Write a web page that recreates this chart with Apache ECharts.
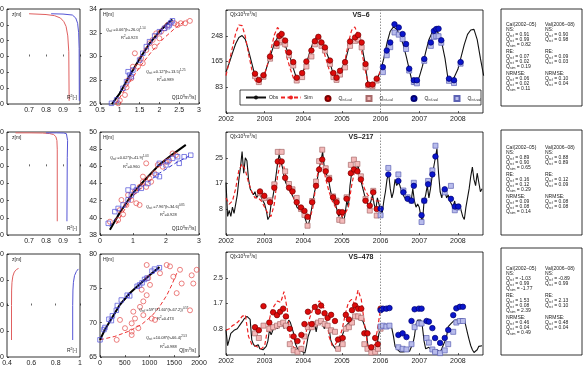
<!DOCTYPE html>
<html>
<head>
<meta charset="utf-8">
<script src="https://cdn.jsdelivr.net/npm/echarts@6/dist/echarts.min.js"></script>
<style>
html, body { margin: 0; padding: 0; background: #fff; }
#main { width: 586px; height: 368px; }
</style>
</head>
<body>
<div id="main"></div>
<script>
const FONT = '"Liberation Sans", Arial, sans-serif';
const years = [2002, 2003, 2004, 2005, 2006, 2007, 2008];

// ---------- VS-6 ----------
// monthly, from Jan 2002
const obs6 = [
  131, 160, 192, 222, 242, 248, 236, 200, 160, 120, 98, 105,
  125, 158, 190, 222, 242, 240, 228, 200, 175, 140, 108, 112,
  135, 160, 195, 225, 242, 238, 220, 200, 172, 135, 110, 118,
  145, 165, 205, 232, 245, 248, 225, 170, 100, 88, 95, 112,
  135, 175, 225, 262, 276, 268, 248, 220, 180, 135, 92, 95,
  115, 150, 195, 235, 258, 268, 255, 225, 175, 105, 96, 118,
  140, 180, 220, 252, 266, 268, 235, 175, 120
];
const sim6 = [
  120, 165, 210, 255, 282, 280, 245, 190, 140, 105, 92, 105,
  125, 160, 205, 250, 274, 262, 222, 175, 140, 110, 108, 120,
  130, 155, 188, 220, 240, 236, 210, 175, 140, 115, 110, 120,
  135, 170, 225, 265, 276, 250, 205, 150, 100, 85, 90, 110,
  135
];
const calRcf6 = [[2002.75,126],[2002.85,106],[2002.97,121],[2003.14,181],[2003.31,223],[2003.38,247],[2003.44,253],[2003.53,232],[2003.63,194],[2003.74,163],[2003.83,113],[2003.97,128],[2004.08,165],[2004.21,200],[2004.30,230],[2004.39,244],[2004.47,226],[2004.56,210],[2004.69,168],[2004.78,128],[2004.86,113],[2004.95,135],[2005.08,163],[2005.21,229],[2005.34,242],[2005.42,250],[2005.51,226],[2005.61,157],[2005.68,91],[2005.79,91],[2005.90,110]];
const calRct6 = [[2002.75,118],[2002.85,99],[2002.97,116],[2003.14,174],[2003.31,215],[2003.38,226],[2003.44,233],[2003.53,220],[2003.63,185],[2003.74,152],[2003.83,104],[2003.97,115],[2004.08,149],[2004.21,181],[2004.30,220],[2004.39,233],[2004.47,215],[2004.56,200],[2004.69,157],[2004.78,115],[2004.86,106],[2004.95,123],[2005.08,146],[2005.21,215],[2005.34,231],[2005.42,236],[2005.51,210],[2005.61,146],[2005.68,88],[2005.79,86],[2005.90,104]];
const valRcf6 = [[2006.06,147],[2006.16,200],[2006.25,226],[2006.36,284],[2006.47,274],[2006.57,253],[2006.66,221],[2006.74,142],[2006.86,105],[2006.94,105],[2007.13,173],[2007.30,226],[2007.38,263],[2007.44,269],[2007.50,270],[2007.57,233],[2007.77,110],[2007.90,105],[2008.07,163]];
const valRct6 = [[2006.06,131],[2006.16,185],[2006.25,211],[2006.36,258],[2006.47,251],[2006.57,237],[2006.66,205],[2006.74,136],[2006.86,99],[2006.94,95],[2007.13,167],[2007.30,215],[2007.38,244],[2007.44,246],[2007.50,246],[2007.57,225],[2007.77,103],[2007.90,96],[2008.07,158]];
const profRed6 = [[0.70,27],[0.80,26.5],[0.85,25.8],[0.885,24.3],[0.905,22],[0.918,19],[0.928,13],[0.934,3],[0.936,-28]];
const profBlue6 = [[0.83,27],[0.90,26.8],[0.955,26.2],[0.975,24.3],[0.986,21],[0.992,15],[0.995,5],[0.996,-28]];
const rcCirc6 = [[0.96,26.06],[1.0,26.3],[1.13,26.76],[1.17,27.4],[1.21,28.0],[1.29,28.16],[1.33,29.14],[1.46,29.14],[1.38,30.27],[1.58,29.43],[1.54,29.85],[1.67,30.55],[1.75,31.11],[1.83,31.39],[1.88,30.83],[1.92,31.95],[2.0,31.53],[2.04,32.09],[2.13,32.37],[2.21,32.65],[2.38,32.8],[2.46,32.65],[2.54,32.8],[2.65,32.8],[2.77,33.0]];
const rcSq6 = [[0.79,26.06],[0.92,26.34],[1.08,27.32],[1.17,27.88],[1.21,28.72],[1.25,28.44],[1.29,28.3],[1.33,28.86],[1.5,29.7],[1.58,30.27],[1.67,30.83],[1.75,31.25],[1.88,31.73],[2.0,32.09],[2.13,32.37],[2.21,32.51],[2.25,32.65],[2.29,32.84],[2.33,33.01]];
const rcBlack6 = [[0.8,26.0],[1.0,26.9],[1.25,28.4],[1.5,29.8],[1.75,31.1],[2.0,32.1],[2.2,32.8],[2.33,33.1]];
const rcRed6 = [[0.9,26.0],[1.2,27.6],[1.5,29.1],[1.8,30.4],[2.1,31.5],[2.4,32.4],[2.7,33.1]];
const rcBlue6 = [[0.8,26.0],[1.1,27.5],[1.4,29.2],[1.7,30.8],[2.0,32.0],[2.3,33.0]];
const statCal6 = [[0.91, 0.99, 0.82], [0.07, 0.02, 0.19], [0.06, 0.02, 0.11]];
const statVal6 = [[0.90, 0.98], [0.09, 0.03], [0.10, 0.04]];

// ---------- VS-217 ----------
// half-monthly, from Jan 2002
const obs217 = [
  17, 6, 8, 6, 9, 7, 10, 13, 18, 22, 27, 20, 25, 24, 18, 15, 14, 13, 14, 12, 13, 14, 12, 11,
  10, 8, 5, 6, 10, 12, 15, 19, 23, 26, 24, 22, 19, 17, 16, 15, 14, 13, 12, 11, 9, 9, 8, 8,
  7, 7, 4, 3, 5, 8, 11, 14, 16, 19, 22, 24, 27, 22, 20, 19, 17, 14, 12, 11, 10, 8, 6, 7,
  6, 4, 7, 11, 9, 16, 20, 21, 22, 21, 23, 19, 17, 15, 13, 11, 10, 9, 11, 13, 10, 8, 12, 10,
  8, 7, 11, 14, 18, 20, 15, 12, 14, 18, 16, 17, 16, 14, 13, 12, 12, 11, 12, 11, 15, 11, 9, 10,
  9, 6, 4, 11, 13, 16, 12, 15, 19, 22, 25, 28, 20, 14, 12, 15, 14, 12, 13, 11, 10, 9, 11, 8,
  9, 10, 8, 6, 5, 9, 12, 15, 19, 22, 18, 16, 20, 17, 14, 15
];
// monthly, from Jan 2002
const sim217 = [
  12, 10, 11, 15, 21, 23, 21, 17, 14, 12, 12, 11,
  9, 7, 6, 10, 19, 24, 22, 17, 14, 12, 10, 9,
  7, 6, 5, 9, 17, 23, 23, 18, 14, 11, 9, 8,
  6, 7, 9, 16, 21, 21, 18, 15, 13, 12, 11, 11,
  11
];
const calRcf217 = [[2002.88,14.1],[2002.99,12.7],[2003.14,10.6],[2003.25,15.3],[2003.34,23.8],[2003.44,23.8],[2003.53,18.5],[2003.63,15.3],[2003.72,14.1],[2003.83,10.6],[2003.94,8.9],[2004.03,7.8],[2004.11,5.9],[2004.23,10.6],[2004.33,15.9],[2004.41,21.2],[2004.49,24.4],[2004.58,20.6],[2004.67,18.0],[2004.77,12.2],[2004.86,10.6],[2004.93,7.4],[2005.01,7.4],[2005.12,11.7],[2005.23,20.0],[2005.31,21.2],[2005.40,20.6],[2005.49,18.0],[2005.61,11.1],[2005.72,9.5],[2005.81,13.8],[2005.90,8.4]];
const calRct217 = [[2002.88,13.5],[2002.99,11.9],[2003.14,11.2],[2003.25,16.4],[2003.34,26.9],[2003.44,26.9],[2003.53,20.6],[2003.63,16.5],[2003.72,14.8],[2003.83,12.0],[2003.94,8.4],[2004.03,6.5],[2004.11,3.0],[2004.23,11.0],[2004.33,17.3],[2004.41,23.9],[2004.49,27.6],[2004.58,21.6],[2004.67,18.5],[2004.77,12.5],[2004.86,11.1],[2004.93,4.9],[2005.01,4.6],[2005.12,12.2],[2005.23,22.7],[2005.31,24.4],[2005.40,23.0],[2005.49,19.0],[2005.61,11.7],[2005.72,7.9],[2005.81,14.3],[2005.90,6.3]];
const valRcf217 = [[2006.00,8.5],[2006.20,19.6],[2006.46,17.5],[2006.59,13.8],[2006.70,11.7],[2006.80,11.1],[2006.86,15.9],[2007.06,6.4],[2007.13,11.1],[2007.23,16.4],[2007.34,19.6],[2007.42,25.4],[2007.66,14.8],[2007.82,11.7],[2007.92,9.2],[2008.01,9.2]];
const valRct217 = [[2006.00,6.4],[2006.20,21.7],[2006.46,19.6],[2006.59,14.4],[2006.70,12.2],[2006.80,11.1],[2006.86,16.9],[2007.06,4.2],[2007.13,11.1],[2007.23,17.5],[2007.34,20.9],[2007.42,28.9],[2007.66,13.8],[2007.82,15.9],[2007.92,8.0],[2008.01,8.9]];
const profRed217 = [[0.62,39],[0.70,39],[0.78,38.8],[0.82,38.2],[0.845,37],[0.858,34.5],[0.864,30],[0.866,20],[0.866,-64]];
const profBlue217 = [[0.80,39],[0.86,39],[0.905,38.8],[0.92,38],[0.926,36],[0.927,30],[0.925,10],[0.923,-64]];
const rcCirc217 = [[0.3,39.55],[0.55,39.75],[0.6,40.9],[0.65,42.08],[0.7,40.4],[0.8,41.5],[0.85,42.66],[0.95,42.08],[1.05,43.05],[1.1,41.7],[1.2,41.5],[1.2,43.6],[1.3,44.2],[1.3,44.8],[1.4,43.6],[1.4,46.35],[1.5,44.6],[1.55,44.2],[1.65,45.19],[1.75,46.16],[1.9,45.96],[2.0,46.54],[2.1,46.7],[2.2,47.5],[2.3,47.3]];
const rcSq217 = [[0.25,39.36],[0.45,40.72],[0.55,41.1],[0.7,41.5],[0.85,43.24],[0.85,42.1],[0.95,42.66],[1.0,43.6],[1.1,43.24],[1.25,43.44],[1.45,44.0],[1.7,44.99],[1.8,44.8],[1.8,46.35],[2.0,46.16],[2.05,46.54],[2.2,46.93],[2.35,47.12],[2.4,46.35],[2.55,47.12],[2.75,47.3]];
const rcBlack217 = [[0.3,38.6],[0.6,40.6],[1.0,42.9],[1.4,44.6],[1.8,46.2],[2.2,47.4],[2.6,48.5]];
const rcRed217 = [[0.5,39.3],[0.9,42.0],[1.3,44.0],[1.7,45.7],[2.1,47.1],[2.4,48.0]];
const rcBlue217 = [[0.3,39.0],[0.8,41.8],[1.3,43.7],[1.8,45.2],[2.3,46.4],[2.7,47.2]];
const statCal217 = [[0.89, 0.90, 0.65], [0.16, 0.12, 0.29], [0.09, 0.08, 0.14]];
const statVal217 = [[0.88, 0.89], [0.12, 0.09], [0.08, 0.08]];

// ---------- VS-478 ----------
// half-monthly, from Jan 2002
const obs478 = [
  0.81, 0.30, 0.50, 0.70, 0.72, 0.80, 0.81, 0.85, 0.90, 1.00, 1.07, 1.15, 1.18, 1.25, 1.29, 1.15, 0.49, 0.35, 0.28, 0.30, 0.33, 0.20, 0.17, 0.17,
  0.17, 0.28, 0.45, 0.81, 0.65, 0.60, 0.92, 0.90, 0.86, 0.95, 1.00, 1.03, 0.86, 0.81, 1.00, 1.13, 1.05, 1.03, 0.70, 0.38, 0.25, 0.17, 0.12, 0.12,
  0.10, 0.06, 0.30, 0.60, 0.75, 0.92, 0.95, 1.03, 0.75, 1.05, 1.10, 1.13, 1.05, 0.85, 0.90, 1.03, 0.90, 0.49, 0.35, 0.28, 0.20, 0.17, 0.25, 0.40,
  0.60, 0.75, 0.92, 0.95, 1.03, 1.05, 1.13, 1.24, 1.24, 1.20, 1.18, 1.15, 1.13, 1.10, 1.05, 0.80, 0.35, 0.17, 0.08, 0.06, 0.06, 0.10, 0.40, 0.70,
  0.86, 0.92, 0.90, 0.92, 1.00, 1.03, 0.95, 0.86, 0.60, 0.28, 0.20, 0.17, 0.10, 0.06, 0.10, 0.12, 0.12, 0.10, 0.12, 0.25, 0.35, 0.60, 1.00, 1.13,
  1.13, 1.13, 0.90, 0.45, 0.20, 0.17, 0.25, 0.30, 0.15, 0.06, 0.12, 0.17, 0.12, 0.10, 0.20, 0.33, 0.45, 0.60, 0.92, 0.98, 1.03, 1.08, 1.13, 1.13,
  1.13, 1.15, 1.18, 1.20, 1.15, 1.13, 0.70, 0.49, 0.30, 0.17, 0.08, 0.06, 0.17, 0.28, 0.33, 0.30
];
// monthly, from Jan 2002
const sim478 = [
  0.80, 0.85, 0.95, 1.00, 1.10, 1.25, 1.30, 0.60, 0.35, 0.30, 0.25, 0.20,
  0.30, 0.90, 1.40, 1.60, 1.75, 1.70, 2.05, 1.50, 0.50, 0.25, 0.20, 0.25,
  0.30, 0.80, 1.20, 1.50, 1.65, 1.75, 1.60, 1.40, 0.60, 0.30, 0.35, 0.50,
  0.80, 1.30, 1.70, 1.80, 1.65, 2.10, 1.80, 1.00, 0.30, 0.12, 0.30, 0.80,
  1.50
];
const calRcf478 = [[2002.75,0.90],[2002.85,0.80],[2002.97,1.58],[2003.12,1.05],[2003.22,1.38],[2003.32,1.29],[2003.40,1.40],[2003.48,1.50],[2003.55,1.25],[2003.65,0.85],[2003.75,0.60],[2003.85,0.45],[2003.95,0.65],[2004.03,1.00],[2004.12,1.40],[2004.22,1.00],[2004.30,1.55],[2004.38,1.40],[2004.46,1.60],[2004.55,1.35],[2004.63,1.20],[2004.72,1.30],[2004.82,1.10],[2004.90,0.50],[2005.02,0.55],[2005.10,1.30],[2005.18,1.15],[2005.26,1.45],[2005.34,1.60],[2005.42,1.50],[2005.50,1.50],[2005.58,0.70],[2005.66,0.70],[2005.76,0.25],[2005.86,0.55],[2005.93,0.35],[2006.00,1.50]];
const calRct478 = [[2002.75,0.70],[2002.85,0.55],[2002.97,0.95],[2003.12,0.85],[2003.22,0.90],[2003.32,0.95],[2003.40,1.00],[2003.48,1.05],[2003.55,0.95],[2003.65,0.35],[2003.75,0.15],[2003.85,0.10],[2003.95,0.20],[2004.03,0.60],[2004.12,0.90],[2004.22,0.90],[2004.30,1.00],[2004.38,1.05],[2004.46,1.10],[2004.55,1.00],[2004.63,0.95],[2004.72,0.80],[2004.82,0.75],[2004.90,0.20],[2005.02,0.35],[2005.10,0.85],[2005.18,0.90],[2005.26,1.05],[2005.34,1.25],[2005.42,1.25],[2005.50,1.20],[2005.58,0.35],[2005.66,0.20],[2005.76,0.08],[2005.86,0.10],[2005.93,0.20],[2006.00,0.85]];
const valRcf478 = [[2006.00,1.45],[2006.06,1.50],[2006.15,1.50],[2006.23,1.52],[2006.46,0.65],[2006.57,0.70],[2006.67,0.58],[2006.80,1.10],[2006.88,1.48],[2006.99,1.50],[2007.06,1.50],[2007.19,1.10],[2007.25,1.08],[2007.34,0.87],[2007.41,0.55],[2007.54,0.39],[2007.66,0.55],[2007.75,0.81],[2007.88,1.29],[2007.96,1.51],[2008.05,1.56],[2008.13,1.56]];
const valRct478 = [[2006.00,0.92],[2006.06,0.95],[2006.15,0.92],[2006.23,0.95],[2006.46,0.25],[2006.57,0.20],[2006.67,0.18],[2006.80,0.35],[2006.88,0.90],[2006.99,1.02],[2007.06,1.02],[2007.19,0.55],[2007.25,0.40],[2007.34,0.18],[2007.41,0.10],[2007.54,0.06],[2007.66,0.15],[2007.75,0.35],[2007.88,0.75],[2007.96,1.05],[2008.05,1.10],[2008.13,1.10]];
const profRed478 = [[0.437,-67],[0.437,0],[0.438,30],[0.441,45],[0.448,57],[0.46,65],[0.478,70],[0.495,72]];
const profBlue478 = [[0.94,-67],[0.94,0],[0.942,30],[0.946,45],[0.955,58],[0.97,66],[0.986,71]];
const rcCirc478 = [[337,67.5],[404,70.4],[505,69.2],[640,68.2],[640,68.7],[640,69.9],[673,71.6],[707,70.6],[774,69.2],[808,72.3],[842,74.8],[875,71.1],[875,73.1],[943,74.0],[943,78.4],[976,76.5],[1010,75.5],[1044,70.6],[1111,70.4],[1212,77.2],[1347,78.4],[1414,78.2],[1481,76.7],[1549,74.3],[1616,77.7],[1650,75.7],[1818,71.8],[1852,76.9],[1885,75.7],[1953,77.7]];
const rcSq478 = [[0,67.5],[80,69.0],[100,69.3],[180,70.5],[230,70.3],[250,71.0],[330,71.8],[350,72.5],[430,73.3],[550,74.0],[600,73.9],[750,75.3],[800,75.5],[850,75.8],[900,76.3],[950,76.5],[1050,77.5],[1100,77.8],[1200,78.0]];
const rcBlack478 = [[0,67.5],[100,69.0],[250,70.8],[400,72.6],[600,74.3],[800,75.6],[1000,76.9],[1200,78.1]];
const rcRed478 = [[0,67.5],[300,68.0],[600,68.8],[850,69.8],[1050,71.0],[1200,72.3],[1350,74.0],[1450,75.5],[1550,77.2]];
const rcBlue478 = [[0,67.6],[150,69.7],[400,72.5],[700,74.9],[1000,76.8],[1200,77.9]];
const statCal478 = [[-1.03, 0.99, -1.77], [1.53, 0.08, 2.39], [0.46, 0.04, 0.49]];
const statVal478 = [[-0.89, 0.99], [2.13, 0.10], [0.48, 0.04]];

// ---------- layout ----------
const monthly = arr => arr.map((v, i) => [2002 + i / 12, v]);
const halfMonthly = arr => arr.map((v, i) => [2002 + i / 24, v]);

const rows = [
  {
    name: 'VS\u20136', abTop: 9, abH: 95, tsTop: 10, tsH: 103, stTop: 9, stH: 97, txtTop: 25,
    profX: { min: 0.57, max: 1, vals: [0.7, 0.8, 0.9, 1] }, profY: { min: -30, max: 30, interval: 10 },
    rcX: { min: 0.5, max: 3, interval: 0.5 }, rcY: { min: 26, max: 34, interval: 2 },
    tsIv: 82.5, tsFmt: v => String(Math.round(v)),
    obs: monthly(obs6), sim: monthly(sim6), cal: [calRcf6, calRct6], val: [valRcf6, valRct6],
    prof: [profRed6, profBlue6], rc: [rcCirc6, rcSq6, rcBlack6, rcRed6, rcBlue6],
    stat: [statCal6, statVal6], qUnit: 'Q[10{p|3}m{p|3}/s]',
    notes: [[106, 30, 'Q{s|rcf} =0.06*(h+26.0){p|1.14}'], [121, 38, 'R{p|2}=0.923'], [146, 72, 'Q{s|rct} =0.12*(h+13.5){p|1.25}'], [157, 80, 'R{p|2}=0.989']]
  },
  {
    name: 'VS\u2013217', abTop: 132, abH: 103, tsTop: 132, tsH: 103, stTop: 130, stH: 105, txtTop: 148,
    profX: { min: 0.57, max: 1, vals: [0.7, 0.8, 0.9, 1] }, profY: { min: -80, max: 40, interval: 20 },
    rcX: { min: 0, max: 3, interval: 1 }, rcY: { min: 38, max: 50, interval: 2 },
    tsIv: 25 / 3, tsFmt: v => String(Math.round(v)),
    obs: halfMonthly(obs217), sim: monthly(sim217), cal: [calRcf217, calRct217], val: [valRcf217, valRct217],
    prof: [profRed217, profBlue217], rc: [rcCirc217, rcSq217, rcBlack217, rcRed217, rcBlue217],
    stat: [statCal217, statVal217], qUnit: 'Q[10{p|3}m{p|3}/s]',
    notes: [[110, 158, 'Q{s|rcf} =0.02*(h-41.9){p|1.03}'], [123, 167, 'R{p|2}=0.960'], [146, 207, 'Q{s|rct} =7.96*(h-34.6){p|0.85}'], [160, 215, 'R{p|2}=0.928']]
  },
  {
    name: 'VS\u2013478', abTop: 254, abH: 103, tsTop: 252, tsH: 103, stTop: 248, stH: 107, txtTop: 269,
    profX: { min: 0.4, max: 1, vals: [0.4, 0.6, 0.8, 1] }, profY: { min: -100, max: 100, interval: 50 },
    rcX: { min: 0, max: 2000, interval: 500 }, rcY: { min: 65, max: 80, interval: 5 },
    tsIv: 2.5 / 3, tsFmt: v => v.toFixed(1),
    obs: halfMonthly(obs478), sim: monthly(sim478), cal: [calRcf478, calRct478], val: [valRcf478, valRct478],
    prof: [profRed478, profBlue478], rc: [rcCirc478, rcSq478, rcBlack478, rcRed478, rcBlue478],
    stat: [statCal478, statVal478], qUnit: 'Q[m{p|3}/s]',
    notes: [[139, 310, 'Q{s|rcf} =59*(71.60*(h-67.2)){p|0.57}'], [157, 319, 'R{p|2}=0.473'], [146, 338, 'Q{s|rct} =10.08*(h-66.4){p|2.53}'], [160, 347, 'R{p|2}=0.988']]
  }
];

const richFor = size => ({
  s: { fontSize: size * 0.7, fontFamily: FONT, fill: '#222', color: '#222', verticalAlign: 'bottom', lineHeight: size * 1.5 },
  p: { fontSize: size * 0.7, fontFamily: FONT, fill: '#222', color: '#222', verticalAlign: 'top', lineHeight: size * 1.5 }
});

function txt(x, y, text, size, opt) {
  opt = opt || {};
  return {
    type: 'text', x: x, y: y, silent: true, z: 10,
    style: {
      text: text, fontSize: size, fontFamily: FONT, fontWeight: opt.bold ? 'bold' : 'normal',
      fill: opt.color || '#222', align: opt.align || 'left', verticalAlign: 'middle',
      rich: richFor(size)
    }
  };
}

const grids = [], xAxes = [], yAxes = [], series = [], graphics = [];
const tickStyle = { inside: true, length: 2, lineStyle: { color: '#000', width: 0.6 } };
const lblStyle = { fontSize: 7, color: '#222', fontFamily: FONT, margin: 3 };
const num = v => String(+(+v).toFixed(3));

function addGrid(left, top, width, height) {
  grids.push({ left: left, top: top, width: width, height: height, show: true, borderColor: '#000', borderWidth: 0.8, outerBoundsMode: 'none' });
  return grids.length - 1;
}
function xAx(gi, o) {
  xAxes.push(Object.assign({ type: 'value', gridIndex: gi, axisLine: { show: false }, splitLine: { show: false },
    axisTick: Object.assign({}, tickStyle, o.ticks ? { customValues: o.ticks } : {}),
    axisLabel: Object.assign({}, lblStyle, { formatter: o.fmt || num }, o.ticks ? { customValues: o.ticks } : {}) },
    { min: o.min, max: o.max }, o.interval ? { interval: o.interval } : {}));
}
function yAx(gi, o) {
  yAxes.push(Object.assign({ type: 'value', gridIndex: gi, axisLine: { show: false }, splitLine: { show: false },
    axisTick: Object.assign({}, tickStyle), axisLabel: Object.assign({}, lblStyle, { formatter: o.fmt || num }) },
    { min: o.min, max: o.max, interval: o.interval }));
}
function line(gi, data, color, width, dash, name) {
  const s = { type: 'line', xAxisIndex: gi, yAxisIndex: gi, data: data, symbol: 'none', silent: true, animation: false, z: 3,
    lineStyle: { color: color, width: width, type: dash ? [4, 2.5] : 'solid' }, itemStyle: { color: color } };
  if (name) s.name = name;
  return s;
}
function dots(gi, data, symbol, size, fill, stroke, name) {
  const s = { type: 'scatter', xAxisIndex: gi, yAxisIndex: gi, data: data, symbol: symbol, symbolSize: size, silent: true, animation: false, z: 4,
    itemStyle: { color: fill, borderColor: stroke, borderWidth: 0.7, opacity: 1 } };
  if (name) s.name = name;
  return s;
}

rows.forEach((r, ri) => {
  const first = ri === 0;
  // profile panel
  let g = addGrid(7, r.abTop, 73, r.abH);
  xAx(g, { min: r.profX.min, max: r.profX.max, ticks: r.profX.vals });
  yAx(g, r.profY);
  series.push(line(g, r.prof[0], '#e06060', 1));
  series.push(line(g, r.prof[1], '#5555d5', 1));
  graphics.push(txt(12, r.abTop + 6, 'z[m]', 5));
  graphics.push(txt(77, r.abTop + r.abH - 6, 'R{p|2}[-]', 5, { align: 'right' }));

  // rating curve panel
  g = addGrid(100, r.abTop, 99, r.abH);
  xAx(g, r.rcX);
  yAx(g, r.rcY);
  series.push(dots(g, r.rc[0], 'circle', 5, 'rgba(0,0,0,0)', '#e44b4b'));
  series.push(dots(g, r.rc[1], 'rect', 4.5, 'rgba(0,0,0,0)', '#4b4bd8'));
  series.push(line(g, r.rc[3], '#e33', 1, true));
  series.push(line(g, r.rc[4], '#33c', 1, true));
  series.push(line(g, r.rc[2], '#000', 2));
  graphics.push(txt(103, r.abTop + 6, 'H[m]', 5));
  graphics.push(txt(196, r.abTop + r.abH - 6, r.qUnit, 5, { align: 'right' }));
  r.notes.forEach(n => graphics.push(txt(n[0], n[1], n[2], 4)));

  // time series panel
  g = addGrid(226, r.tsTop, 257, r.tsH);
  xAx(g, { min: 2002, max: 2008.65, ticks: years, fmt: v => String(v) });
  const top = 4 * r.tsIv;
  yAx(g, { min: 0, max: top, interval: r.tsIv, fmt: v => (v <= 0 || v >= top * 0.99) ? '' : r.tsFmt(v) });
  const obs = line(g, r.obs, '#111', 1.1, false, first ? 'Obs' : null);
  obs.markLine = { silent: true, symbol: 'none', label: { show: false }, animation: false,
    lineStyle: { type: [1.5, 1.5], color: '#777', width: 0.8 }, data: [{ xAxis: 2006 }] };
  series.push(obs);
  series.push(line(g, r.sim, '#e22', 1.2, true, first ? 'Sim' : null));
  series.push(dots(g, r.cal[1], 'rect', 5, '#f3b9b9', '#a86a6a', first ? 'rct-cal' : null));
  series.push(dots(g, r.cal[0], 'circle', 5.5, '#dd0b0b', '#7a0000', first ? 'rcf-cal' : null));
  series.push(dots(g, r.val[1], 'rect', 5, '#b8bcec', '#5c62b4', first ? 'rct-val' : null));
  series.push(dots(g, r.val[0], 'circle', 5.5, '#0a16cc', '#000070', first ? 'rcf-val' : null));
  graphics.push(txt(230, r.tsTop + 5, 'Q[x10{p|3}m{p|3}/s]', 5));
  graphics.push(txt(361, r.tsTop + 5, r.name, 7, { bold: true, align: 'center' }));

  // statistics box
  graphics.push({ type: 'rect', silent: true, z: 1, shape: { x: 501, y: r.stTop, width: 81, height: r.stH },
    style: { fill: '#fff', stroke: '#000', lineWidth: 0.8 } });
  const heads = ['NS:', 'RE:', 'NRMSE:'];
  const offs = [5, 27, 49];
  const cols = [[506, 'Cal(2002\u201305)', r.stat[0], ['rcf', 'rct', 'sim']], [545, 'Val(2006\u201308)', r.stat[1], ['rcf', 'rct']]];
  cols.forEach(c => {
    graphics.push(txt(c[0], r.txtTop, c[1], 5));
    c[2].forEach((vals, bi) => {
      graphics.push(txt(c[0], r.txtTop + offs[bi], heads[bi], 5));
      vals.forEach((v, k) => {
        graphics.push(txt(c[0], r.txtTop + offs[bi] + 4.7 + k * 4.9, 'Q{s|' + c[3][k] + '} = ' + v.toFixed(2), 5));
      });
    });
  });
});

// legend inside the first time series panel
graphics.push({ type: 'rect', silent: true, z: 5, shape: { x: 240, y: 90, width: 241, height: 15 },
  style: { fill: '#fff', stroke: '#000', lineWidth: 0.7 } });
const legendLabels = { 'Obs': 'Obs', 'Sim': 'Sim', 'rcf-cal': 'Q{s|rcf-cal}', 'rct-cal': 'Q{s|rct-cal}', 'rcf-val': 'Q{s|rcf-val}', 'rct-val': 'Q{s|rct-val}' };
// [series name, left edge of icon, icon width]
const legendPos = [['Obs', 245, 20], ['Sim', 280, 20], ['rcf-cal', 324.5, 5], ['rct-cal', 365.5, 5], ['rcf-val', 410.5, 5], ['rct-val', 453.5, 5]];
const legends = legendPos.map(p => ({
  data: [p[0]], left: p[1], top: 95, padding: 0, itemWidth: p[2], itemHeight: 5, itemGap: 0, z: 20,
  selectedMode: false, formatter: n => legendLabels[n],
  textStyle: { fontSize: 5, color: '#222', fontFamily: FONT, padding: [0, 0, 0, p[2] === 5 ? 3 : -2],
    rich: { s: { fontSize: 3.5, color: '#222', verticalAlign: 'bottom', lineHeight: 7 } } }
}));

const chart = echarts.init(document.getElementById('main'));
chart.setOption({
  animation: false,
  backgroundColor: '#fff',
  grid: grids,
  xAxis: xAxes,
  yAxis: yAxes,
  legend: legends,
  series: series,
  graphic: graphics
});
</script>
</body>
</html>
